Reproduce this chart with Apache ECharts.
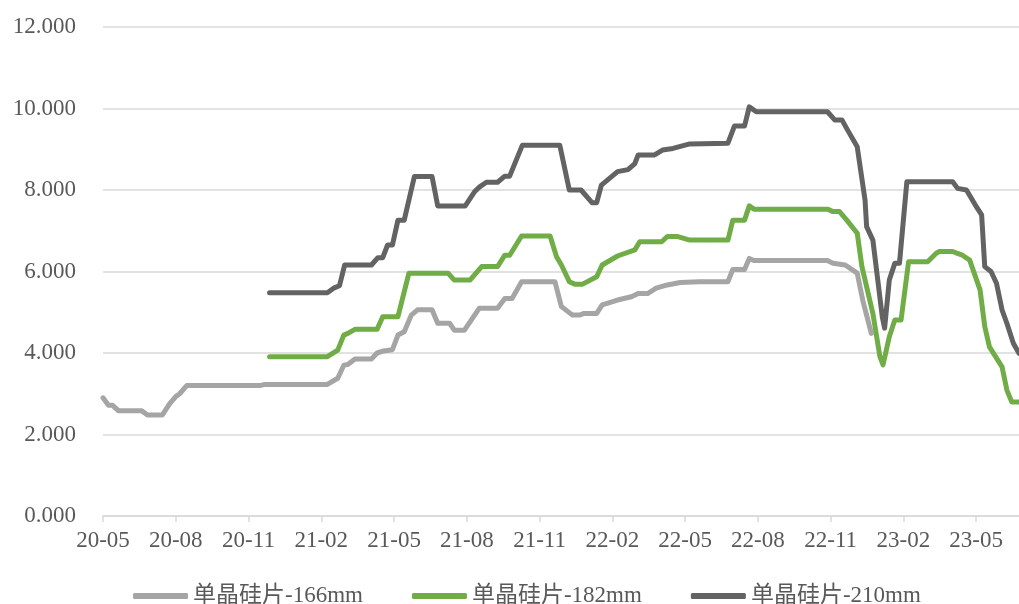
<!DOCTYPE html>
<html>
<head>
<meta charset="utf-8">
<script src="https://cdn.jsdelivr.net/npm/echarts@6/dist/echarts.min.js"></script>
<style>html,body{margin:0;padding:0;background:#fff}#c{width:1019px;height:604px}</style>
</head>
<body>
<div id="c"></div>
<script>
// ---- data ----
const seriesNames = ['单晶硅片-166mm', '单晶硅片-182mm', '单晶硅片-210mm'];
const xTickLabels = ['20-05','20-08','20-11','21-02','21-05','21-08','21-11','22-02','22-05','22-08','22-11','23-02','23-05'];
const axisStart = '2020-05-01';
const axisEnd = '2023-06-24';

const dates166 = ['2020-05-01','2020-05-08','2020-05-13','2020-05-21','2020-06-19','2020-06-26','2020-07-15','2020-07-24','2020-08-01','2020-08-06','2020-08-15','2020-11-15','2020-11-21','2021-02-08','2021-02-20','2021-02-27','2021-03-04','2021-03-13','2021-04-03','2021-04-10','2021-04-18','2021-04-29','2021-05-06','2021-05-14','2021-05-23','2021-05-31','2021-06-18','2021-06-25','2021-07-10','2021-07-16','2021-07-29','2021-08-17','2021-09-09','2021-09-18','2021-09-27','2021-10-09','2021-11-20','2021-11-28','2021-12-12','2021-12-21','2021-12-27','2022-01-12','2022-01-19','2022-02-07','2022-02-23','2022-03-03','2022-03-15','2022-03-26','2022-04-09','2022-04-25','2022-05-19','2022-06-24','2022-06-30','2022-07-15','2022-07-21','2022-07-27','2022-10-28','2022-11-04','2022-11-19','2022-11-28','2022-12-04','2022-12-11','2022-12-22'];
const values166 = [2.90,2.72,2.72,2.58,2.58,2.48,2.48,2.75,2.93,3.00,3.20,3.20,3.23,3.23,3.38,3.70,3.72,3.85,3.85,4.00,4.05,4.08,4.44,4.52,4.93,5.06,5.06,4.73,4.73,4.56,4.56,5.10,5.10,5.34,5.34,5.75,5.75,5.14,4.93,4.93,4.97,4.97,5.18,5.30,5.38,5.46,5.46,5.59,5.67,5.73,5.75,5.75,6.05,6.05,6.32,6.27,6.27,6.20,6.16,6.04,5.96,5.30,4.48];

const dates182 = ['2020-11-27','2021-02-08','2021-02-20','2021-02-27','2021-03-04','2021-03-13','2021-04-10','2021-04-17','2021-05-06','2021-05-20','2021-07-08','2021-07-16','2021-08-05','2021-08-20','2021-09-09','2021-09-18','2021-09-24','2021-10-09','2021-11-14','2021-11-22','2021-11-28','2021-12-08','2021-12-15','2021-12-25','2022-01-12','2022-01-19','2022-02-07','2022-02-27','2022-03-05','2022-04-02','2022-04-09','2022-04-21','2022-05-07','2022-06-24','2022-06-30','2022-07-15','2022-07-21','2022-07-27','2022-10-28','2022-11-04','2022-11-12','2022-11-21','2022-12-04','2022-12-10','2022-12-24','2023-01-02','2023-01-06','2023-01-14','2023-01-21','2023-01-29','2023-02-07','2023-03-01','2023-03-12','2023-03-16','2023-04-02','2023-04-07','2023-04-14','2023-04-23','2023-05-06','2023-05-12','2023-05-18','2023-06-03','2023-06-09','2023-06-15','2023-06-24'];
const values182 = [3.91,3.91,4.07,4.44,4.48,4.58,4.58,4.89,4.89,5.96,5.96,5.79,5.79,6.12,6.12,6.40,6.40,6.87,6.87,6.36,6.16,5.75,5.69,5.69,5.87,6.16,6.38,6.53,6.73,6.73,6.86,6.86,6.77,6.77,7.26,7.26,7.61,7.53,7.53,7.47,7.47,7.26,6.94,6.12,4.97,3.91,3.71,4.40,4.81,4.81,6.24,6.24,6.45,6.49,6.49,6.45,6.40,6.28,5.55,4.65,4.15,3.66,3.09,2.80,2.80];

const dates210 = ['2020-11-27','2021-02-08','2021-02-16','2021-02-22','2021-02-28','2021-04-03','2021-04-11','2021-04-17','2021-04-23','2021-04-29','2021-05-06','2021-05-14','2021-05-27','2021-06-18','2021-06-25','2021-07-30','2021-08-11','2021-08-17','2021-08-26','2021-09-09','2021-09-18','2021-09-24','2021-10-10','2021-11-26','2021-12-08','2021-12-23','2022-01-06','2022-01-12','2022-01-18','2022-02-07','2022-02-19','2022-02-27','2022-03-03','2022-03-24','2022-04-03','2022-04-16','2022-05-07','2022-06-24','2022-07-02','2022-07-15','2022-07-21','2022-07-30','2022-10-28','2022-11-06','2022-11-15','2022-11-22','2022-12-04','2022-12-14','2022-12-16','2022-12-24','2023-01-05','2023-01-08','2023-01-14','2023-01-21','2023-01-27','2023-02-05','2023-04-02','2023-04-08','2023-04-19','2023-04-30','2023-05-08','2023-05-12','2023-05-20','2023-05-27','2023-06-03','2023-06-09','2023-06-17','2023-06-24'];
const values210 = [5.48,5.48,5.60,5.65,6.16,6.16,6.34,6.34,6.65,6.65,7.26,7.26,8.33,8.33,7.61,7.61,7.96,8.07,8.19,8.19,8.34,8.34,9.10,9.10,8.00,8.00,7.69,7.69,8.12,8.45,8.50,8.65,8.86,8.86,8.98,9.02,9.13,9.15,9.57,9.57,10.04,9.92,9.92,9.72,9.72,9.47,9.06,7.75,7.10,6.77,4.89,4.61,5.79,6.20,6.20,8.20,8.20,8.04,8.00,7.63,7.39,6.12,6.00,5.71,5.06,4.73,4.24,3.99];

// ---- helpers ----
function monthOffset(s) {
  const [y, m, d] = s.split('-').map(Number);
  const dim = new Date(y, m, 0).getDate();
  return (y - 2020) * 12 + (m - 5) + (d - 1) / dim;
}
function pairs(ds, vs) { return ds.map((d, i) => [monthOffset(d), vs[i]]); }
const tickVals = xTickLabels.map(t => monthOffset('20' + t.slice(0,2) + '-' + t.slice(3) + '-01'));
function labelFor(v) {
  const i = tickVals.findIndex(t => Math.abs(t - v) < 1e-6);
  return i >= 0 ? xTickLabels[i] : '';
}

const FONT = "'Liberation Serif', 'Times New Roman', 'Noto Sans CJK SC', serif";
const TXT = '#595959';
const colors = ['#A5A5A5', '#70AD47', '#636363'];
const allData = [pairs(dates166, values166), pairs(dates182, values182), pairs(dates210, values210)];

const chart = echarts.init(document.getElementById('c'), null, {renderer: 'canvas'});
chart.setOption({
  animation: false,
  backgroundColor: '#fff',
  color: colors,
  grid: {left: 103, right: 0, top: 27, bottom: 88, containLabel: false},
  xAxis: {
    type: 'value',
    min: monthOffset(axisStart),
    max: monthOffset(axisEnd),
    axisLine: {show: true, lineStyle: {color: '#D9D9D9', width: 1.5}},
    axisTick: {show: true, length: 6, lineStyle: {color: '#D9D9D9', width: 1.5}, customValues: tickVals},
    axisLabel: {customValues: tickVals, formatter: labelFor, color: TXT, fontFamily: FONT, fontSize: 23, margin: 13},
    splitLine: {show: false}
  },
  yAxis: {
    type: 'value', min: 0, max: 12, interval: 2,
    axisLine: {show: false}, axisTick: {show: false},
    axisLabel: {formatter: v => v.toFixed(3), color: TXT, fontFamily: FONT, fontSize: 23, margin: 27},
    splitLine: {lineStyle: {color: '#D9D9D9', width: 1.5}}
  },
  legend: {
    left: 133, top: 583,
    itemWidth: 55, itemHeight: 6, itemGap: 49,
    icon: 'roundRect',
    textStyle: {color: TXT, fontFamily: FONT, fontSize: 23, lineHeight: 26, padding: [0, 0, 0, 0]},
    padding: 0,
    data: seriesNames
  },
  series: seriesNames.map((n, i) => ({
    name: n, type: 'line', data: allData[i], showSymbol: false, symbol: 'none',
    lineStyle: {width: 5, color: colors[i], cap: 'round', join: 'round'},
    itemStyle: {color: colors[i]}
  }))
});
</script>
</body>
</html>
